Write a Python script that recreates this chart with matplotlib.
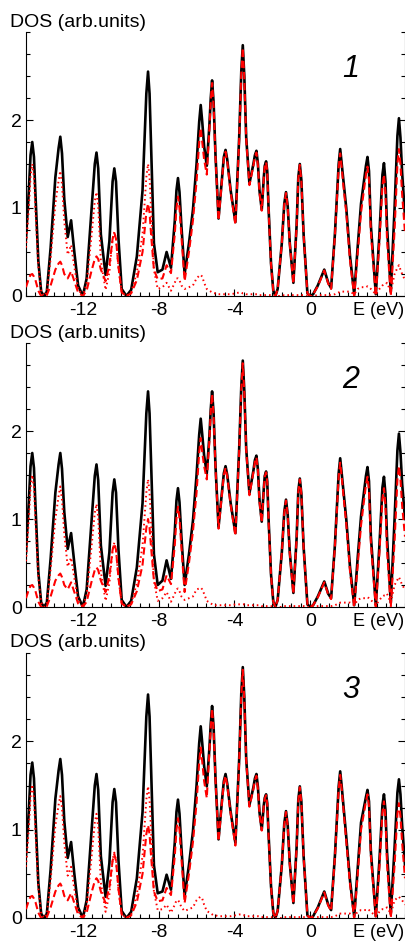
import matplotlib
matplotlib.use("Agg")
import matplotlib.pyplot as plt
from matplotlib.ticker import MultipleLocator

plt.rcParams["font.family"] = ["Liberation Sans", "DejaVu Sans"]
plt.rcParams["axes.unicode_minus"] = False

# energy grid (eV), shared by the three panels; one row per group of peaks
energy = [
    -15.0, -14.85, -14.76, -14.67, -14.58, -14.5, -14.35,
    -14.2, -14.05, -13.9, -13.7, -13.45, -13.28, -13.19, -13.1, -12.98,
    -12.8, -12.62, -12.45, -12.25, -12.0, -11.8, -11.55, -11.37, -11.28, -11.19, -11.05,
    -10.8, -10.6, -10.43, -10.34, -10.25, -10.12, -9.95, -9.7, -9.45, -9.15, -8.85,
    -8.65, -8.56, -8.48, -8.4, -8.25, -8.05, -7.8, -7.58, -7.35, -7.15, -7.06, -6.98, -6.9, -6.8,
    -6.63, -6.4, -6.19, -6.0, -5.86, -5.78, -5.7, -5.6, -5.46, -5.32, -5.25, -5.18, -5.1, -5.0,
    -4.84, -4.65, -4.56, -4.47, -4.38, -4.2, -3.95, -3.75, -3.64, -3.56, -3.48, -3.38, -3.21,
    -3.0, -2.92, -2.84, -2.76, -2.68, -2.56, -2.45, -2.4, -2.33, -2.27, -2.2, -2.07, -1.95, -1.84, -1.72,
    -1.5, -1.37, -1.28, -1.19, -1.08, -0.89, -0.72, -0.63, -0.55, -0.47, -0.35, -0.15, 0.0, 0.15,
    0.4, 0.74, 0.95, 1.1, 1.3, 1.5, 1.58, 1.66, 1.75, 1.9, 2.1, 2.32,
    2.5, 2.68, 2.94, 3.02, 3.1, 3.2, 3.46, 3.65, 3.81, 3.89, 3.97, 4.05, 4.25,
    4.45, 4.6, 4.68, 4.76, 4.85, 5.0,
]

# panel 1: total DOS (solid), dashed and dotted partial DOS
total_1 = [
    0.65, 1.2, 1.6, 1.75, 1.58, 1.15, 0.4,
    0.05, 0.0, 0.05, 0.55, 1.35, 1.68, 1.81, 1.62, 1.1,
    0.67, 0.86, 0.5, 0.12, 0.0, 0.2, 0.95, 1.5, 1.63, 1.45, 0.7,
    0.24, 0.62, 1.3, 1.45, 1.3, 0.65, 0.08, 0.0, 0.07, 0.45, 1.2,
    2.3, 2.55, 2.3, 1.7, 0.6, 0.27, 0.3, 0.5, 0.32, 0.85, 1.2, 1.34, 1.18, 0.8,
    0.25, 0.6, 0.98, 1.5, 1.98, 2.17, 1.98, 1.7, 1.48, 1.95, 2.25, 2.45, 2.2, 1.6,
    0.88, 1.35, 1.58, 1.66, 1.55, 1.2, 0.84, 1.8, 2.55, 2.85, 2.5, 1.8, 1.28,
    1.5, 1.6, 1.65, 1.5, 1.2, 0.98, 1.35, 1.48, 1.53, 1.42, 1.0, 0.37, 0.06, 0.0, 0.08,
    0.6, 1.05, 1.18, 1.02, 0.6, 0.15, 0.8, 1.35, 1.5, 1.32, 0.7, 0.03, 0.0, 0.02,
    0.12, 0.3, 0.15, 0.09, 0.7, 1.5, 1.67, 1.5, 1.3, 1.0, 0.45, 0.02,
    0.55, 1.05, 1.48, 1.58, 1.42, 0.8, 0.02, 0.7, 1.38, 1.51, 1.3, 0.8, 0.05,
    1.0, 1.82, 2.02, 1.8, 1.4, 0.9,
]
p_1 = [
    0.1, 0.2, 0.24, 0.25, 0.22, 0.18, 0.06,
    0.0, 0.0, 0.01, 0.12, 0.3, 0.37, 0.39, 0.35, 0.25,
    0.2, 0.28, 0.17, 0.04, 0.0, 0.06, 0.28, 0.42, 0.45, 0.42, 0.3,
    0.17, 0.35, 0.65, 0.72, 0.65, 0.33, 0.04, 0.0, 0.03, 0.18, 0.5,
    0.95, 1.05, 0.95, 0.7, 0.3, 0.19, 0.2, 0.35, 0.26, 0.7, 1.0, 1.13, 1.0, 0.68,
    0.17, 0.5, 0.86, 1.3, 1.75, 1.91, 1.75, 1.55, 1.38, 1.9, 2.22, 2.42, 2.17, 1.58,
    0.86, 1.33, 1.56, 1.64, 1.53, 1.18, 0.81, 1.77, 2.52, 2.82, 2.47, 1.78, 1.26,
    1.48, 1.58, 1.63, 1.48, 1.18, 0.97, 1.34, 1.47, 1.52, 1.41, 0.99, 0.36, 0.06, 0.0, 0.08,
    0.6, 1.04, 1.17, 1.01, 0.59, 0.14, 0.79, 1.34, 1.49, 1.31, 0.69, 0.03, 0.0, 0.02,
    0.11, 0.29, 0.14, 0.08, 0.68, 1.46, 1.62, 1.46, 1.25, 0.95, 0.4, 0.0,
    0.47, 0.95, 1.38, 1.47, 1.32, 0.72, 0.0, 0.62, 1.25, 1.38, 1.17, 0.65, 0.0,
    0.75, 1.5, 1.67, 1.5, 1.15, 0.72,
]
s_1 = [
    0.55, 1.0, 1.36, 1.5, 1.36, 0.97, 0.34,
    0.05, 0.0, 0.04, 0.43, 1.05, 1.31, 1.42, 1.27, 0.85,
    0.47, 0.58, 0.33, 0.08, 0.0, 0.14, 0.67, 1.08, 1.18, 1.03, 0.4,
    0.07, 0.27, 0.65, 0.73, 0.65, 0.32, 0.04, 0.0, 0.04, 0.27, 0.7,
    1.35, 1.5, 1.35, 1.0, 0.3, 0.08, 0.1, 0.15, 0.06, 0.15, 0.2, 0.2, 0.18, 0.12,
    0.08, 0.1, 0.12, 0.2, 0.23, 0.24, 0.22, 0.15, 0.08, 0.06, 0.05, 0.04, 0.03, 0.03,
    0.02, 0.02, 0.02, 0.02, 0.02, 0.02, 0.03, 0.04, 0.04, 0.03, 0.03, 0.02, 0.02,
    0.02, 0.02, 0.02, 0.02, 0.01, 0.01, 0.01, 0.01, 0.01, 0.01, 0.01, 0.01, 0.0, 0.0, 0.0,
    0.0, 0.01, 0.01, 0.01, 0.01, 0.01, 0.01, 0.01, 0.01, 0.01, 0.01, 0.0, 0.0, 0.0,
    0.01, 0.01, 0.01, 0.01, 0.02, 0.04, 0.05, 0.05, 0.05, 0.05, 0.05, 0.02,
    0.08, 0.1, 0.1, 0.11, 0.1, 0.08, 0.02, 0.08, 0.12, 0.13, 0.13, 0.15, 0.05,
    0.25, 0.32, 0.35, 0.3, 0.25, 0.18,
]

# panel 2
total_2 = [
    0.62, 1.2, 1.6, 1.75, 1.58, 1.15, 0.4,
    0.05, 0.0, 0.05, 0.55, 1.3, 1.62, 1.75, 1.57, 1.08,
    0.66, 0.84, 0.5, 0.12, 0.0, 0.2, 0.95, 1.49, 1.62, 1.44, 0.7,
    0.24, 0.62, 1.3, 1.45, 1.3, 0.65, 0.08, 0.0, 0.07, 0.45, 1.18,
    2.2, 2.45, 2.2, 1.65, 0.6, 0.25, 0.3, 0.53, 0.32, 0.85, 1.21, 1.35, 1.19, 0.8,
    0.25, 0.6, 0.98, 1.5, 1.96, 2.14, 1.96, 1.72, 1.52, 1.95, 2.25, 2.45, 2.2, 1.6,
    0.91, 1.32, 1.52, 1.6, 1.5, 1.18, 0.84, 1.8, 2.5, 2.8, 2.46, 1.8, 1.29,
    1.55, 1.67, 1.72, 1.56, 1.22, 0.97, 1.35, 1.49, 1.54, 1.43, 1.0, 0.37, 0.06, 0.0, 0.08,
    0.62, 1.08, 1.22, 1.05, 0.62, 0.16, 0.78, 1.32, 1.46, 1.29, 0.68, 0.03, 0.0, 0.02,
    0.12, 0.29, 0.15, 0.1, 0.7, 1.52, 1.69, 1.52, 1.32, 1.0, 0.45, 0.02,
    0.55, 1.03, 1.49, 1.59, 1.43, 0.8, 0.02, 0.7, 1.36, 1.48, 1.28, 0.8, 0.05,
    1.0, 1.78, 1.97, 1.76, 1.4, 1.0,
]
p_2 = [
    0.1, 0.2, 0.24, 0.25, 0.22, 0.18, 0.06,
    0.0, 0.0, 0.01, 0.12, 0.3, 0.36, 0.38, 0.34, 0.25,
    0.2, 0.28, 0.17, 0.04, 0.0, 0.06, 0.28, 0.42, 0.45, 0.42, 0.3,
    0.17, 0.35, 0.65, 0.72, 0.65, 0.33, 0.04, 0.0, 0.03, 0.18, 0.48,
    0.9, 1.0, 0.9, 0.68, 0.3, 0.18, 0.2, 0.36, 0.26, 0.7, 1.01, 1.14, 1.01, 0.68,
    0.17, 0.5, 0.86, 1.3, 1.76, 1.92, 1.76, 1.6, 1.45, 1.9, 2.22, 2.42, 2.17, 1.58,
    0.89, 1.3, 1.5, 1.58, 1.48, 1.16, 0.81, 1.77, 2.47, 2.77, 2.43, 1.78, 1.27,
    1.53, 1.65, 1.7, 1.54, 1.2, 0.96, 1.34, 1.48, 1.53, 1.42, 0.99, 0.36, 0.06, 0.0, 0.08,
    0.62, 1.07, 1.21, 1.04, 0.61, 0.15, 0.77, 1.31, 1.45, 1.28, 0.67, 0.03, 0.0, 0.02,
    0.11, 0.28, 0.14, 0.09, 0.68, 1.48, 1.64, 1.48, 1.27, 0.95, 0.4, 0.0,
    0.47, 0.93, 1.39, 1.48, 1.33, 0.72, 0.0, 0.62, 1.23, 1.35, 1.15, 0.65, 0.0,
    0.75, 1.45, 1.6, 1.45, 1.15, 0.8,
]
s_2 = [
    0.52, 1.0, 1.36, 1.5, 1.36, 0.97, 0.34,
    0.05, 0.0, 0.04, 0.43, 1.0, 1.26, 1.37, 1.22, 0.83,
    0.46, 0.56, 0.33, 0.08, 0.0, 0.14, 0.67, 1.07, 1.17, 1.02, 0.4,
    0.07, 0.27, 0.65, 0.73, 0.65, 0.32, 0.04, 0.0, 0.04, 0.27, 0.7,
    1.3, 1.45, 1.3, 0.97, 0.3, 0.07, 0.1, 0.17, 0.06, 0.15, 0.2, 0.21, 0.18, 0.12,
    0.08, 0.1, 0.12, 0.2, 0.21, 0.22, 0.2, 0.15, 0.07, 0.05, 0.04, 0.03, 0.02, 0.02,
    0.02, 0.02, 0.02, 0.02, 0.02, 0.02, 0.03, 0.03, 0.03, 0.03, 0.03, 0.02, 0.02,
    0.02, 0.02, 0.02, 0.02, 0.02, 0.01, 0.01, 0.01, 0.01, 0.01, 0.01, 0.01, 0.0, 0.0, 0.0,
    0.0, 0.01, 0.01, 0.01, 0.01, 0.01, 0.01, 0.01, 0.01, 0.01, 0.01, 0.0, 0.0, 0.0,
    0.01, 0.01, 0.01, 0.01, 0.02, 0.04, 0.05, 0.05, 0.05, 0.05, 0.05, 0.02,
    0.08, 0.1, 0.1, 0.11, 0.1, 0.08, 0.02, 0.08, 0.12, 0.13, 0.13, 0.15, 0.05,
    0.25, 0.31, 0.34, 0.3, 0.25, 0.2,
]

# panel 3
total_3 = [
    0.7, 1.22, 1.62, 1.76, 1.58, 1.15, 0.4,
    0.05, 0.0, 0.05, 0.55, 1.35, 1.67, 1.8, 1.62, 1.1,
    0.68, 0.86, 0.5, 0.12, 0.0, 0.2, 0.95, 1.5, 1.63, 1.45, 0.7,
    0.24, 0.62, 1.31, 1.46, 1.31, 0.65, 0.08, 0.0, 0.07, 0.45, 1.2,
    2.28, 2.53, 2.28, 1.7, 0.6, 0.28, 0.3, 0.49, 0.32, 0.85, 1.2, 1.34, 1.18, 0.8,
    0.25, 0.6, 0.98, 1.5, 1.98, 2.17, 1.98, 1.72, 1.49, 1.93, 2.2, 2.4, 2.16, 1.58,
    0.89, 1.35, 1.55, 1.63, 1.52, 1.2, 0.85, 1.8, 2.54, 2.84, 2.5, 1.8, 1.28,
    1.48, 1.58, 1.63, 1.48, 1.2, 1.0, 1.28, 1.36, 1.4, 1.3, 0.95, 0.36, 0.06, 0.0, 0.08,
    0.6, 1.07, 1.21, 1.05, 0.62, 0.17, 0.8, 1.34, 1.49, 1.32, 0.7, 0.03, 0.0, 0.02,
    0.12, 0.3, 0.15, 0.09, 0.7, 1.49, 1.66, 1.49, 1.28, 0.92, 0.42, 0.02,
    0.55, 1.08, 1.37, 1.45, 1.32, 0.75, 0.02, 0.65, 1.28, 1.4, 1.22, 0.75, 0.05,
    0.8, 1.42, 1.57, 1.4, 1.05, 0.6,
]
p_3 = [
    0.1, 0.2, 0.24, 0.25, 0.22, 0.18, 0.06,
    0.0, 0.0, 0.01, 0.12, 0.3, 0.37, 0.39, 0.35, 0.25,
    0.2, 0.28, 0.17, 0.04, 0.0, 0.06, 0.28, 0.42, 0.45, 0.42, 0.3,
    0.17, 0.35, 0.65, 0.72, 0.65, 0.33, 0.04, 0.0, 0.03, 0.18, 0.5,
    0.95, 1.05, 0.95, 0.7, 0.3, 0.19, 0.2, 0.34, 0.26, 0.7, 1.0, 1.13, 1.0, 0.68,
    0.17, 0.5, 0.86, 1.3, 1.77, 1.93, 1.77, 1.55, 1.36, 1.88, 2.15, 2.37, 2.13, 1.56,
    0.87, 1.33, 1.53, 1.61, 1.5, 1.18, 0.82, 1.77, 2.51, 2.81, 2.47, 1.78, 1.26,
    1.46, 1.56, 1.61, 1.46, 1.18, 0.99, 1.27, 1.35, 1.39, 1.29, 0.94, 0.35, 0.06, 0.0, 0.08,
    0.6, 1.06, 1.2, 1.04, 0.61, 0.16, 0.79, 1.33, 1.48, 1.31, 0.69, 0.03, 0.0, 0.02,
    0.11, 0.29, 0.14, 0.08, 0.68, 1.46, 1.62, 1.46, 1.24, 0.88, 0.38, 0.0,
    0.48, 1.0, 1.32, 1.4, 1.27, 0.7, 0.0, 0.58, 1.2, 1.32, 1.13, 0.62, 0.0,
    0.6, 1.18, 1.3, 1.15, 0.85, 0.45,
]
s_3 = [
    0.58, 1.02, 1.37, 1.51, 1.36, 0.97, 0.34,
    0.05, 0.0, 0.04, 0.43, 1.05, 1.28, 1.38, 1.25, 0.85,
    0.48, 0.58, 0.33, 0.08, 0.0, 0.14, 0.67, 1.08, 1.18, 1.03, 0.4,
    0.07, 0.27, 0.66, 0.74, 0.66, 0.32, 0.04, 0.0, 0.04, 0.27, 0.7,
    1.34, 1.49, 1.34, 1.0, 0.3, 0.09, 0.1, 0.15, 0.06, 0.15, 0.2, 0.2, 0.18, 0.12,
    0.08, 0.1, 0.12, 0.2, 0.23, 0.24, 0.22, 0.15, 0.08, 0.06, 0.05, 0.04, 0.03, 0.03,
    0.02, 0.02, 0.02, 0.02, 0.02, 0.02, 0.03, 0.04, 0.04, 0.03, 0.03, 0.02, 0.02,
    0.02, 0.02, 0.02, 0.02, 0.01, 0.01, 0.01, 0.01, 0.01, 0.01, 0.01, 0.01, 0.0, 0.0, 0.0,
    0.0, 0.01, 0.01, 0.01, 0.01, 0.01, 0.01, 0.01, 0.01, 0.01, 0.01, 0.0, 0.0, 0.0,
    0.01, 0.01, 0.01, 0.01, 0.02, 0.04, 0.05, 0.05, 0.05, 0.05, 0.05, 0.02,
    0.07, 0.09, 0.09, 0.1, 0.09, 0.07, 0.02, 0.07, 0.1, 0.1, 0.11, 0.12, 0.05,
    0.2, 0.23, 0.24, 0.22, 0.2, 0.15,
]

panels = [
    ("1", total_1, p_1, s_1),
    ("2", total_2, p_2, s_2),
    ("3", total_3, p_3, s_3),
]
x_ticks = [-12, -8, -4, 0]
y_ticks = [0, 1, 2]

W, H = 406, 944
fig = plt.figure(figsize=(W / 100, H / 100), dpi=100)

# axes boxes in pixels: (left, top, right, bottom)
boxes = [(26, 32, 405, 296), (26, 343, 405, 607), (26, 653, 405, 918)]

for (num, total, p, s), (l, t, r, b) in zip(panels, boxes):
    ax = fig.add_axes([l / W, 1 - b / H, (r - l) / W, (b - t) / H])
    ax.plot(energy, total, color="black", lw=1.9, solid_joinstyle="round", zorder=2)
    ax.plot(energy, p, color="red", lw=1.5, dashes=(3.5, 1.8), zorder=3)
    ax.plot(energy, s, color="red", lw=1.4, linestyle=(0, (0.8, 1.6)), zorder=4)

    ax.set_xlim(-15, 5)
    ax.set_ylim(0, 3)
    ax.set_xticks(x_ticks)
    ax.set_yticks(y_ticks)
    ax.xaxis.set_minor_locator(MultipleLocator(0.5))
    ax.yaxis.set_minor_locator(MultipleLocator(0.25))
    ax.tick_params(which="both", direction="in", labelsize=14, width=0.8,
                   right=True, top=False)
    ax.tick_params(which="major", length=5)
    ax.tick_params(which="minor", length=3)
    ax.tick_params(axis="x", pad=4)
    ax.tick_params(axis="y", pad=3)
    ax.spines["top"].set_visible(False)
    for side in ("left", "bottom", "right"):
        ax.spines[side].set_linewidth(0.8)

    ax.text(-0.042, 1.0 + 10 / 264, "DOS (arb.units)", transform=ax.transAxes,
            fontsize=14, ha="left", va="center")
    ax.annotate("E (eV)", xy=(3.6, 0), xycoords=("data", "axes fraction"),
                xytext=(0, -4), textcoords="offset points",
                fontsize=13, ha="center", va="top")
    ax.text(2.15, 2.58, num, fontsize=22, style="italic", ha="center", va="center")

fig.savefig("out.png", dpi=100)
